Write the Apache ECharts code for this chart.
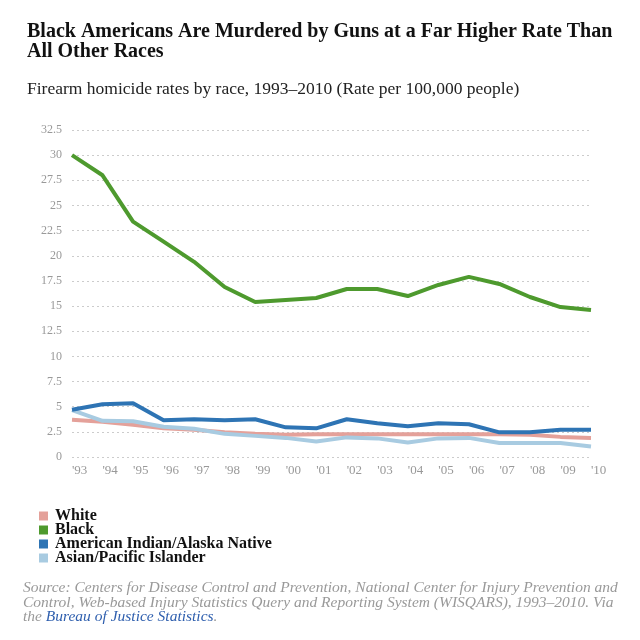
<!DOCTYPE html>
<html>
<head>
<meta charset="utf-8">
<script src="https://cdn.jsdelivr.net/npm/echarts@6/dist/echarts.min.js"></script>
<style>
html,body{margin:0;padding:0;background:#fff;}
#chart{width:640px;height:640px;}
</style>
</head>
<body>
<div id="chart"></div>
<script>
var years = ["'93","'94","'95","'96","'97","'98","'99","'00","'01","'02","'03","'04","'05","'06","'07","'08","'09","'10"];
var white = [3.7,3.5,3.2,2.85,2.7,2.45,2.3,2.2,2.25,2.25,2.25,2.25,2.25,2.25,2.25,2.2,2.0,1.9];
var black = [30.0,28.0,23.4,21.4,19.4,16.9,15.4,15.6,15.8,16.7,16.7,16.0,17.1,17.9,17.2,15.9,14.9,14.6];
var aian = [4.7,5.25,5.35,3.65,3.75,3.65,3.75,2.95,2.85,3.75,3.35,3.05,3.35,3.25,2.45,2.45,2.7,2.7];
var asian = [4.65,3.6,3.55,3.0,2.8,2.3,2.1,1.9,1.55,1.95,1.85,1.45,1.85,1.9,1.4,1.4,1.4,1.05];
var yTicks = [0,2.5,5,7.5,10,12.5,15,17.5,20,22.5,25,27.5,30,32.5];
var seriesNames = ["White","Black","American Indian/Alaska Native","Asian/Pacific Islander"];
var colors = ["#e4a19a","#4e9a2e","#2e74b4","#a8cbe1"];

var chart = echarts.init(document.getElementById('chart'));
var serif = '"Liberation Serif", "DejaVu Serif", serif';
var dataSets = [white, black, aian, asian];
var zs = [2,5,4,3];
var series = seriesNames.map(function(n,i){
  return {
    name: n, type: 'line', data: dataSets[i], symbol: 'none',
    lineStyle: {width: 4, color: colors[i]}, itemStyle: {color: colors[i]},
    z: zs[i], animation: false
  };
});
chart.setOption({
  animation: false,
  backgroundColor: '#fff',
  title: [{
    text: 'Black Americans Are Murdered by Guns at a Far Higher Rate Than\nAll Other Races',
    left: 22, top: 17,
    textStyle: {fontFamily: serif, fontWeight: 'bold', fontSize: 20, lineHeight: 20, color: '#111'}
  },{
    text: 'Firearm homicide rates by race, 1993\u20132010 (Rate per 100,000 people)',
    left: 22, top: 75,
    textStyle: {fontFamily: serif, fontWeight: 'normal', fontSize: 17.5, color: '#222'}
  }],
  legend: {
    data: seriesNames, orient: 'vertical', left: 39, top: 508, padding: 0,
    icon: 'rect', itemWidth: 9, itemHeight: 9, itemGap: -2,
    textStyle: {fontFamily: serif, fontWeight: 'bold', fontSize: 16, lineHeight: 14, height: 14, color: '#111', padding: [0,0,0,2]}
  },
  grid: {left: 72, right: 49, top: 130, bottom: 183},
  xAxis: {
    type: 'category', data: years, boundaryGap: false,
    axisLine: {show: false}, axisTick: {show: false},
    axisLabel: {color: '#999', fontFamily: serif, fontSize: 13, align: 'left', margin: 7, interval: 0}
  },
  yAxis: {
    type: 'value', min: 0, max: 32.5, interval: 2.5,
    axisLine: {show: false}, axisTick: {show: false},
    axisLabel: {color: '#999', fontFamily: serif, fontSize: 12, margin: 10,
      formatter: function(v){ return yTicks.indexOf(v) >= 0 ? String(v) : ''; }},
    splitLine: {lineStyle: {color: '#ccc', type: [2,3], width: 1}}
  },
  series: series,
  graphic: [{
    type: 'text', left: 23, top: 580,
    style: {
      text: '{g|Source: Centers for Disease Control and Prevention, National Center for Injury Prevention and}\n{g|Control, Web-based Injury Statistics Query and Reporting System (WISQARS), 1993\u20132010. Via}\n{g|the }{b|Bureau of Justice Statistics}{g|.}',
      rich: {
        g: {fontFamily: serif, fontStyle: 'italic', fontSize: 15.5, lineHeight: 14.5, fill: '#999'},
        b: {fontFamily: serif, fontStyle: 'italic', fontSize: 15.5, lineHeight: 14.5, fill: '#2f5fae'}
      }
    }
  }]
});
</script>
</body>
</html>
